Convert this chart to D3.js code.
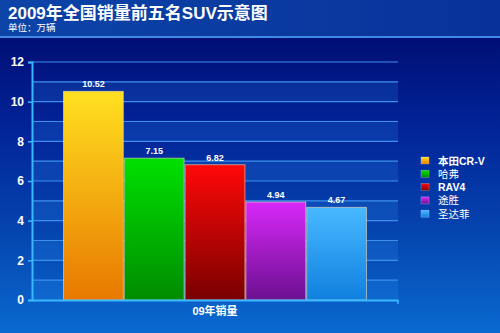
<!DOCTYPE html>
<html>
<head>
<meta charset="utf-8">
<script src="https://cdn.jsdelivr.net/npm/d3@7"></script>
<style>
  html, body { margin: 0; padding: 0; background: #0a3590; }
  svg { display: block; font-family: "Liberation Sans", Arial, "Noto Sans CJK SC", sans-serif; }
</style>
</head>
<body>
<svg id="chart" width="500" height="333"></svg>
<script>
const categories = ["本田CR-V", "哈弗", "RAV4", "途胜", "圣达菲"];
const sales = [10.52, 7.15, 6.82, 4.94, 4.67];
const groupLabel = "09年销量";
const yTicks = [0, 2, 4, 6, 8, 10, 12];
const barColors = [
  ["#ffe020", "#e87800"],
  ["#00e000", "#008c00"],
  ["#ff0808", "#7a0000"],
  ["#d828f8", "#6c1090"],
  ["#48b8ff", "#1080e0"]
];

const svg = d3.select("#chart");
const W = 500, H = 333;
const margin = { top: 62, right: 102, bottom: 33, left: 32 };
const width = W - margin.left - margin.right;
const height = H - margin.top - margin.bottom;

const defs = svg.append("defs");

// backgrounds
const bg = defs.append("linearGradient").attr("id", "bg")
  .attr("x1", 0).attr("y1", 0).attr("x2", 0).attr("y2", 1);
bg.append("stop").attr("offset", "10%").attr("stop-color", "#000e74");
bg.append("stop").attr("offset", "40%").attr("stop-color", "#02259a");
bg.append("stop").attr("offset", "70%").attr("stop-color", "#0545b0");
bg.append("stop").attr("offset", "100%").attr("stop-color", "#0a6ad0");

const hd = defs.append("linearGradient").attr("id", "hd")
  .attr("x1", 0).attr("y1", 0).attr("x2", 1).attr("y2", 0);
hd.append("stop").attr("offset", "0%").attr("stop-color", "#0c44a8");
hd.append("stop").attr("offset", "100%").attr("stop-color", "#08329a");

barColors.forEach((c, i) => {
  const g = defs.append("linearGradient").attr("id", "bar" + i)
    .attr("x1", 0).attr("y1", 0).attr("x2", 0).attr("y2", 1);
  g.append("stop").attr("offset", "0%").attr("stop-color", c[0]);
  g.append("stop").attr("offset", "100%").attr("stop-color", c[1]);
});

svg.append("rect").attr("width", W).attr("height", H).attr("fill", "url(#bg)");
svg.append("rect").attr("width", W).attr("height", 37).attr("fill", "url(#hd)");
svg.append("rect").attr("y", 36).attr("width", W).attr("height", 2).attr("fill", "#3f88e6");

svg.append("text").attr("x", 8).attr("y", 18.5)
  .attr("fill", "#fff").attr("font-size", 17).attr("font-weight", "bold")
  .text("2009年全国销量前五名SUV示意图");
svg.append("text").attr("x", 8).attr("y", 31)
  .attr("fill", "#fff").attr("font-size", 9.5)
  .text("单位：万辆");

const g = svg.append("g").attr("transform", `translate(${margin.left},${margin.top})`);

const y = d3.scaleLinear().domain([0, 12]).range([height, 0]);
const x0 = d3.scaleBand().domain([groupLabel]).range([0, width]).paddingInner(0).paddingOuter(0.102);
const x1 = d3.scaleBand().domain(categories).range([0, x0.bandwidth()]);

// alternating bands
const unit = d3.range(0, 12, 2);
g.selectAll(".band").data(unit).enter().append("rect")
  .attr("x", 0).attr("width", width)
  .attr("y", d => y(d + 1)).attr("height", d => y(d) - y(d + 1))
  .attr("fill", "#3aa0ff")
  .attr("opacity", 0.16);

g.selectAll(".grid").data(d3.range(1, 13)).enter().append("line")
  .attr("x1", 0).attr("x2", width)
  .attr("y1", d => y(d)).attr("y2", d => y(d))
  .attr("stroke", "#3c90ec")
  .attr("stroke-width", 1.2);

// y axis
const yAxis = d3.axisLeft(y).tickValues(yTicks).tickSize(4).tickPadding(4);
const ya = g.append("g").call(yAxis);
ya.select(".domain").attr("stroke", "#38b8ff").attr("stroke-width", 2);
ya.selectAll(".tick line").attr("stroke", "#38b8ff").attr("stroke-width", 1.5);
ya.selectAll(".tick text").attr("fill", "#fff").attr("font-size", 12).attr("font-weight", "bold")
  .attr("font-family", "Liberation Sans, Arial, sans-serif");

// bars
const gg = g.append("g").attr("transform", `translate(${x0(groupLabel)},0)`);
gg.selectAll(".bar").data(sales).enter().append("rect")
  .attr("x", (d, i) => x1(categories[i]) + 0.5)
  .attr("width", x1.bandwidth() - 1)
  .attr("y", d => y(d))
  .attr("height", d => y(0) - y(d))
  .attr("fill", (d, i) => `url(#bar${i})`)
  .attr("stroke", "rgba(255,230,180,0.55)")
  .attr("stroke-width", 1);

gg.selectAll(".val").data(sales).enter().append("text")
  .attr("x", (d, i) => x1(categories[i]) + x1.bandwidth() / 2)
  .attr("y", d => y(d) - 4)
  .attr("text-anchor", "middle")
  .attr("fill", "#fff").attr("font-size", 9).attr("font-weight", "bold")
  .text(d => d.toFixed(2));

// x axis
const xa = g.append("g").attr("transform", `translate(0,${height})`)
  .call(d3.axisBottom(x0).tickSize(0).tickPadding(7));
xa.select(".domain").attr("stroke", "#38b8ff").attr("stroke-width", 2);
xa.selectAll(".tick text").attr("fill", "#fff").attr("font-size", 11).attr("font-weight", "bold")
  .attr("font-family", "Liberation Sans, Arial, Noto Sans CJK SC, sans-serif");
g.append("line").attr("x1", width).attr("x2", width).attr("y1", height).attr("y2", height + 4)
  .attr("stroke", "#38b8ff").attr("stroke-width", 1.5);

// legend
const lg = svg.append("g").attr("transform", "translate(421,157)");
const rows = lg.selectAll(".lr").data(categories).enter().append("g")
  .attr("transform", (d, i) => `translate(0,${i * 13.3})`);
rows.append("rect").attr("width", 8).attr("height", 7)
  .attr("fill", (d, i) => `url(#bar${i})`)
  .attr("stroke", "rgba(255,255,255,0.4)").attr("stroke-width", 0.6);
rows.append("text").attr("x", 17).attr("y", 7.5)
  .attr("fill", "#fff").attr("font-size", 10.5)
  .attr("font-weight", d => /[A-Z]/.test(d) ? "bold" : "normal")
  .text(d => d);
</script>
</body>
</html>
